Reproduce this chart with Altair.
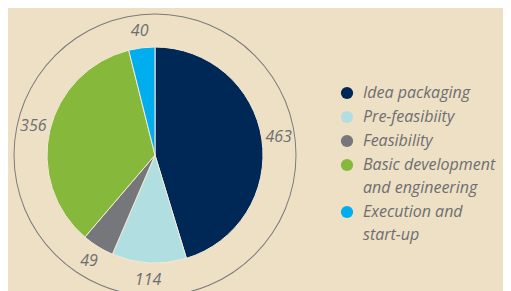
import altair as alt
import pandas as pd

stages = ["Idea packaging", "Pre-feasibiity", "Feasibility",
          "Basic development|and engineering", "Execution and|start-up"]
values = [463, 114, 49, 356, 40]
colors = ["#002856", "#b1dfe1", "#76777a", "#86b83c", "#00aeef"]

df = pd.DataFrame({"stage": stages, "value": values, "idx": list(range(len(stages)))})
ring_df = pd.DataFrame({"v": [1]})

BG = "#EDE0C4"
TXT = "#6d6e71"
FONT = "Open Sans"
cx, cy = 147, 147

ring = alt.Chart(ring_df).mark_arc(radius=141.5, radius2=140.5, color="#7b7b7d").encode(
    theta=alt.Theta("v:Q"), x=alt.value(cx), y=alt.value(cy)
)

base = alt.Chart(df).encode(
    theta=alt.Theta("value:Q", stack=True),
    order=alt.Order("idx:Q"),
    x=alt.value(cx), y=alt.value(cy),
)

pie = base.mark_arc(radius=108, stroke="#f3ead8", strokeWidth=1).encode(
    color=alt.Color(
        "stage:N",
        scale=alt.Scale(domain=stages, range=colors),
        sort=stages,
        legend=alt.Legend(
            orient="none", legendX=331, legendY=77, title=None, padding=0,
            labelFont=FONT, labelFontSize=16, labelFontStyle="italic", labelColor=TXT,
            symbolType="circle", symbolSize=150, symbolStrokeWidth=0, labelOffset=8,
            rowPadding=8, labelExpr="split(datum.label, '|')", labelLimit=300,
        ),
    )
)

labels = base.mark_text(radius=125, fontSize=16, fontStyle="italic", font=FONT, color=TXT).encode(
    text="value:Q"
)

chart = (
    alt.layer(ring, pie, labels)
    .resolve_scale(theta="independent")
    .properties(width=495, height=283, padding=0, background=BG,
                autosize=alt.AutoSizeParams(type="none"))
    .configure(view={"strokeWidth": 0}, style={"guide-label": {"lineHeight": 23}})
)

chart.save("out.html", embed_options={"renderer": "svg", "actions": False})
